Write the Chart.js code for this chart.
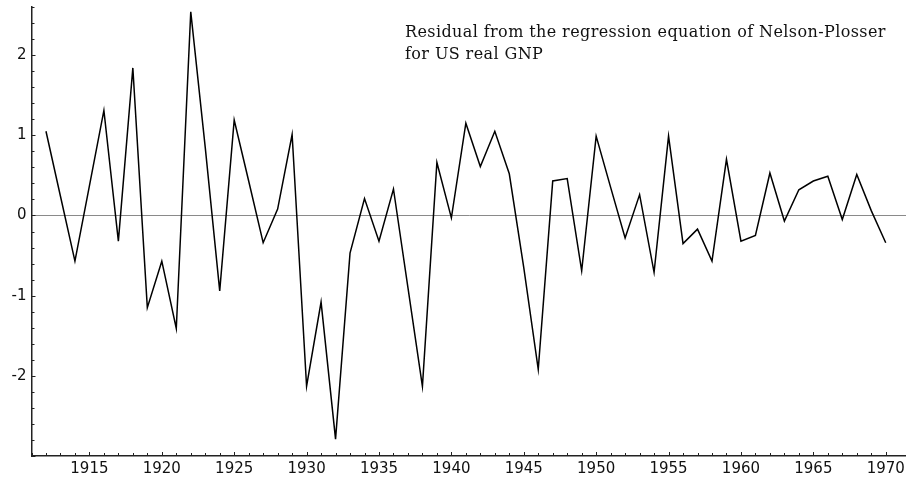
<!DOCTYPE html>
<html>
<head>
<meta charset="utf-8">
<script src="https://cdn.jsdelivr.net/npm/chart.js@4/dist/chart.umd.min.js"></script>
<style>
  html, body { margin: 0; padding: 0; background: #fff; }
  #wrap { width: 906px; height: 478px; }
</style>
</head>
<body>
<div id="wrap"><canvas id="chart" width="906" height="478"></canvas></div>
<script>
// residuals, one per year
const years = [
  1912, 1913, 1914, 1915, 1916, 1917, 1918, 1919, 1920, 1921,
  1922, 1923, 1924, 1925, 1926, 1927, 1928, 1929, 1930, 1931,
  1932, 1933, 1934, 1935, 1936, 1937, 1938, 1939, 1940, 1941,
  1942, 1943, 1944, 1945, 1946, 1947, 1948, 1949, 1950, 1951,
  1952, 1953, 1954, 1955, 1956, 1957, 1958, 1959, 1960, 1961,
  1962, 1963, 1964, 1965, 1966, 1967, 1968, 1969, 1970
];
const residuals = [
  1.05, 0.24, -0.57, 0.37, 1.31, -0.32, 1.84, -1.15, -0.57, -1.41,
  2.54, 0.85, -0.94, 1.19, 0.43, -0.34, 0.08, 1.01, -2.13, -1.08,
  -2.79, -0.47, 0.21, -0.32, 0.33, -0.90, -2.13, 0.66, -0.03, 1.15,
  0.61, 1.05, 0.52, -0.65, -1.92, 0.43, 0.46, -0.69, 0.99, 0.35,
  -0.28, 0.26, -0.71, 0.99, -0.35, -0.17, -0.57, 0.70, -0.32, -0.25,
  0.53, -0.07, 0.32, 0.43, 0.49, -0.05, 0.51, 0.06, -0.34
];
const yLabels = [-2, -1, 0, 1, 2];
const noteLines = [
  'Residual from the regression equation of Nelson-Plosser',
  'for US real GNP'
];

const isInt = v => Math.abs(v - Math.round(v)) < 1e-6;
const axisColor = '#222';
const tickFont = { family: 'DejaVu Sans', size: 15 };

// small inward tick marks, the way the original plot draws them
const innerTicks = {
  id: 'innerTicks',
  afterDraw(chart) {
    const { ctx, chartArea, scales } = chart;
    ctx.save();
    ctx.strokeStyle = axisColor;
    ctx.lineWidth = 1;
    ctx.beginPath();
    for (const t of scales.x.ticks) {
      if (!isInt(t.value)) continue;
      const px = Math.round(scales.x.getPixelForValue(t.value)) + 0.5;
      const len = t.value % 5 === 0 ? 4 : 3;
      ctx.moveTo(px, chartArea.bottom);
      ctx.lineTo(px, chartArea.bottom - len);
    }
    for (const t of scales.y.ticks) {
      const py = Math.round(scales.y.getPixelForValue(t.value)) + 0.5;
      const len = isInt(t.value) ? 4 : 3;
      ctx.moveTo(chartArea.left, py);
      ctx.lineTo(chartArea.left + len, py);
    }
    ctx.stroke();
    ctx.restore();
  }
};

// the note in the upper right
const note = {
  id: 'note',
  afterDraw(chart) {
    const ctx = chart.ctx;
    ctx.save();
    ctx.fillStyle = '#111';
    ctx.font = '16px "DejaVu Serif"';
    ctx.letterSpacing = '0.4px';
    ctx.textBaseline = 'alphabetic';
    noteLines.forEach((line, i) => ctx.fillText(line, 405, 37 + i * 22));
    ctx.restore();
  }
};

new Chart(document.getElementById('chart'), {
  type: 'line',
  data: {
    datasets: [{
      data: years.map((y, i) => ({ x: y, y: residuals[i] })),
      borderColor: '#000',
      borderWidth: 1.5,
      pointRadius: 0,
      tension: 0,
      fill: false
    }]
  },
  options: {
    responsive: false,
    animation: false,
    layout: { padding: { top: 7, right: 0, left: 0, bottom: 0 } },
    plugins: { legend: { display: false }, tooltip: { enabled: false } },
    scales: {
      x: {
        type: 'linear',
        min: 1911,
        max: 1971.4,
        afterFit: s => { s.height = 22; s.paddingLeft = 0; s.paddingRight = 0; },
        border: { color: axisColor, width: 1.5 },
        grid: { display: true, drawOnChartArea: false, drawTicks: false },
        ticks: {
          stepSize: 1,
          autoSkip: false,
          maxRotation: 0,
          padding: 4,
          color: '#111',
          font: tickFont,
          callback: v => (isInt(v) && Math.round(v) % 5 === 0) ? String(Math.round(v)) : ''
        }
      },
      y: {
        min: -3,
        max: 2.6,
        afterFit: s => { s.width = 31.5; s.paddingTop = 0; s.paddingBottom = 0; },
        border: { color: axisColor, width: 1.5 },
        grid: {
          drawTicks: false,
          color: ctx => (ctx.tick && Math.abs(ctx.tick.value) < 1e-6) ? '#8a8a8a' : 'rgba(0,0,0,0)',
          lineWidth: 1
        },
        ticks: {
          stepSize: 0.2,
          autoSkip: false,
          padding: 5,
          color: '#111',
          font: tickFont,
          callback: v => (isInt(v) && yLabels.includes(Math.round(v))) ? String(Math.round(v)) : ''
        }
      }
    }
  },
  plugins: [innerTicks, note]
});
</script>
</body>
</html>
